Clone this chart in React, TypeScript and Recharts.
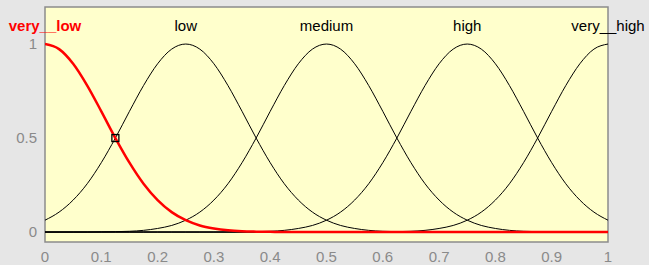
import React from "react"
import {
  LineChart,
  Line,
  XAxis,
  YAxis,
  CartesianGrid,
  ReferenceArea,
  ReferenceDot,
  ReferenceLine,
} from "recharts"

// input grid (0 .. 1)
const xs = [
  0, 0.025, 0.05, 0.075, 0.1, 0.125, 0.15, 0.175, 0.2, 0.225, 0.25, 0.275, 0.3, 0.325, 0.35, 0.375, 0.4, 0.425,
  0.45, 0.475, 0.5, 0.525, 0.55, 0.575, 0.6, 0.625, 0.65, 0.675, 0.7, 0.725, 0.75, 0.775, 0.8, 0.825, 0.85,
  0.875, 0.9, 0.925, 0.95, 0.975, 1,
]

// membership values
const veryLow = [
  1, 0.973, 0.895, 0.779, 0.642, 0.5, 0.369, 0.257, 0.17, 0.106, 0.063, 0.035, 0.019, 0.009, 0.004, 0.002, 0.001,
  0, 0, 0, 0, 0, 0, 0, 0, 0, 0, 0, 0, 0, 0, 0, 0, 0, 0, 0, 0, 0, 0, 0, 0,
]
const low = [
  0.063, 0.106, 0.17, 0.257, 0.369, 0.5, 0.642, 0.779, 0.895, 0.973, 1, 0.973, 0.895, 0.779, 0.642, 0.5, 0.369,
  0.257, 0.17, 0.106, 0.063, 0.035, 0.019, 0.009, 0.004, 0.002, 0.001, 0, 0, 0, 0, 0, 0, 0, 0, 0, 0, 0, 0, 0, 0,
]
const medium = [
  0, 0, 0, 0, 0.001, 0.002, 0.004, 0.009, 0.019, 0.035, 0.063, 0.106, 0.17, 0.257, 0.369, 0.5, 0.642, 0.779,
  0.895, 0.973, 1, 0.973, 0.895, 0.779, 0.642, 0.5, 0.369, 0.257, 0.17, 0.106, 0.063, 0.035, 0.019, 0.009, 0.004,
  0.002, 0.001, 0, 0, 0, 0,
]
const high = [
  0, 0, 0, 0, 0, 0, 0, 0, 0, 0, 0, 0, 0, 0, 0.001, 0.002, 0.004, 0.009, 0.019, 0.035, 0.063, 0.106, 0.17, 0.257,
  0.369, 0.5, 0.642, 0.779, 0.895, 0.973, 1, 0.973, 0.895, 0.779, 0.642, 0.5, 0.369, 0.257, 0.17, 0.106, 0.063,
]
const veryHigh = [
  0, 0, 0, 0, 0, 0, 0, 0, 0, 0, 0, 0, 0, 0, 0, 0, 0, 0, 0, 0, 0, 0, 0, 0, 0.001, 0.002, 0.004, 0.009, 0.019,
  0.035, 0.063, 0.106, 0.17, 0.257, 0.369, 0.5, 0.642, 0.779, 0.895, 0.973, 1,
]

const mfNames = ["very__low", "low", "medium", "high", "very__high"]
const mfCenters = [0, 0.25, 0.5, 0.75, 1]
const xTicks = [0, 0.1, 0.2, 0.3, 0.4, 0.5, 0.6, 0.7, 0.8, 0.9, 1]
const yTicks = [0, 0.5, 1]

const data = xs.map((x, i) => ({
  x,
  veryLow: veryLow[i],
  low: low[i],
  medium: medium[i],
  high: high[i],
  veryHigh: veryHigh[i],
}))

const Y_DOMAIN: [number, number] = [-0.053, 1.197]
const GRAY_TEXT = "#8a8a8a"
const TICK_GRAY = "#9a9a9a"

const SquareMark = (p: any) => (
  <rect x={p.cx - 3.5} y={p.cy - 3.5} width={7} height={7} fill="none" stroke="#000" strokeWidth={1.3} />
)

export default function App() {
  return (
    <div style={{ position: "absolute", left: 0, top: 0, width: 649, height: 265, background: "#e6e6e6" }}>
      <LineChart
        width={649}
        height={265}
        data={data}
        margin={{ top: 7, right: 41, left: 0, bottom: 0 }}
        style={{ fontFamily: "'Liberation Sans', Arial, sans-serif" }}
      >
        <CartesianGrid horizontal={false} vertical={false} fill="#ffffcc" />
        <XAxis
          dataKey="x"
          type="number"
          domain={[0, 1]}
          ticks={xTicks}
          height={23}
          axisLine={false}
          tickLine={false}
          tickSize={0}
          tickMargin={9}
          tick={{ fill: GRAY_TEXT, fontSize: 15 }}
          allowDataOverflow
        />
        <XAxis
          xAxisId="bottomIn"
          dataKey="x"
          type="number"
          domain={[0, 1]}
          ticks={xTicks}
          mirror
          axisLine={false}
          tickLine={{ stroke: TICK_GRAY }}
          tickSize={5}
          tick={false}
        />
        <XAxis
          xAxisId="topIn"
          orientation="top"
          dataKey="x"
          type="number"
          domain={[0, 1]}
          ticks={xTicks}
          mirror
          axisLine={false}
          tickLine={{ stroke: TICK_GRAY }}
          tickSize={5}
          tick={false}
        />
        <YAxis
          type="number"
          domain={Y_DOMAIN}
          ticks={yTicks}
          width={45}
          axisLine={false}
          tickLine={false}
          tickSize={0}
          tickMargin={8}
          tick={{ fill: GRAY_TEXT, fontSize: 15 }}
          allowDataOverflow
        />
        <YAxis
          yAxisId="leftIn"
          type="number"
          domain={Y_DOMAIN}
          ticks={yTicks}
          mirror
          axisLine={false}
          tickLine={{ stroke: TICK_GRAY }}
          tickSize={4}
          tick={false}
          allowDataOverflow
        />
        <YAxis
          yAxisId="rightIn"
          orientation="right"
          type="number"
          domain={Y_DOMAIN}
          ticks={yTicks}
          mirror
          axisLine={false}
          tickLine={{ stroke: TICK_GRAY }}
          tickSize={4}
          tick={false}
          allowDataOverflow
        />
        <ReferenceArea
          x1={0}
          x2={1}
          y1={Y_DOMAIN[0]}
          y2={Y_DOMAIN[1]}
          fill="none"
          stroke="#8c8c8c"
          strokeWidth={1.5}
          ifOverflow="visible"
        />
        <ReferenceLine y={0} stroke="#000" strokeWidth={1} />

        <Line type="monotone" dataKey="low" stroke="#000" strokeWidth={1} dot={false} isAnimationActive={false} />
        <Line type="monotone" dataKey="medium" stroke="#000" strokeWidth={1} dot={false} isAnimationActive={false} />
        <Line type="monotone" dataKey="high" stroke="#000" strokeWidth={1} dot={false} isAnimationActive={false} />
        <Line type="monotone" dataKey="veryHigh" stroke="#000" strokeWidth={1} dot={false} isAnimationActive={false} />
        <Line type="monotone" dataKey="veryLow" stroke="#ff0000" strokeWidth={2.5} dot={false} isAnimationActive={false} />

        <ReferenceDot x={0.125} y={0.5} shape={SquareMark} ifOverflow="visible" />

        {mfNames.map((name, i) => (
          <ReferenceDot
            key={name}
            x={mfCenters[i]}
            y={1.1}
            r={0}
            fill="none"
            stroke="none"
            ifOverflow="visible"
            label={{
              value: name,
              position: "center",
              fill: i === 0 ? "#ff0000" : "#000",
              fontSize: 15,
              fontWeight: i === 0 ? "bold" : "normal",
            }}
          />
        ))}
      </LineChart>
    </div>
  )
}
